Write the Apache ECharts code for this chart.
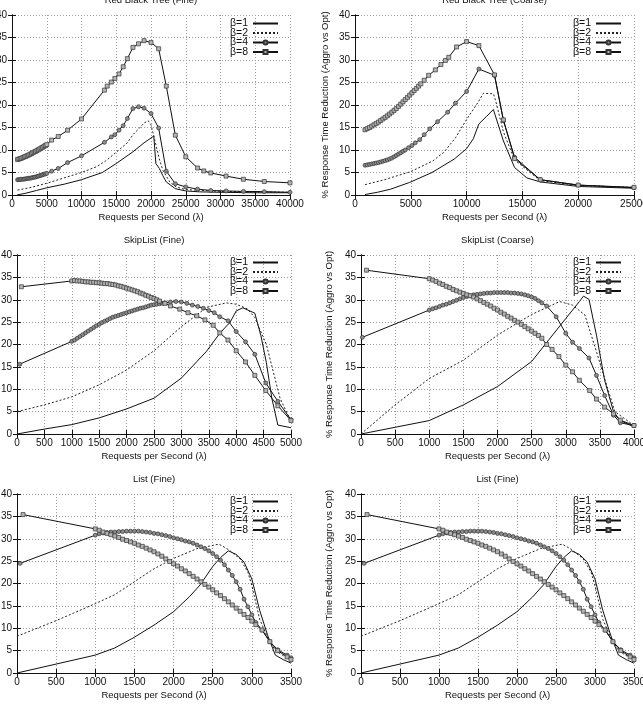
<!DOCTYPE html>
<html>
<head>
<meta charset="utf-8">
<script src="https://cdn.jsdelivr.net/npm/echarts@6/dist/echarts.min.js"></script>
<style>
  html, body { margin: 0; padding: 0; background: #fff; }
  #chart { width: 643px; height: 710px; }
</style>
</head>
<body>
<div id="chart"></div>
<script>
// ---- data: [requests per second, % reduction] ----
const seriesNames = ['β=1', 'β=2', 'β=4', 'β=8'];
const yTicks = { min: 0, max: 40, step: 5 };

// Red Black Tree (Fine)
const rbtFineB1 = [[700,0],[2000,0.4],[3500,1.0],[5000,1.6],[7500,2.4],[10000,3.4],[13000,5.0],[15000,7.0],[17400,9.6],[19000,11.6],[20400,13.1],[20700,7.0],[21200,5.9],[21700,4.3],[22200,2.9],[23500,1.4],[25000,0.9],[27000,0.7],[30000,0.6],[35000,0.5],[40000,0.5]];
const rbtFineB2 = [[800,1.1],[2500,1.6],[5000,2.6],[7500,3.8],[10000,5.0],[12200,6.3],[13500,7.6],[15000,9.5],[16600,11.6],[17400,13.4],[18300,14.8],[19000,16.0],[19600,16.5],[20000,15.6],[20500,12.5],[20800,10.5],[21200,8.0],[21700,5.5],[22700,2.9],[23600,1.8],[25000,1.2],[30000,0.8],[40000,0.6]];
const rbtFineB4 = [[800,3.4],[1000,3.4],[1200,3.45],[1400,3.5],[1600,3.5],[1800,3.55],[2000,3.6],[2200,3.65],[2400,3.7],[2600,3.75],[2800,3.8],[3000,3.9],[3200,3.95],[3400,4.0],[3600,4.1],[3800,4.2],[4000,4.3],[4200,4.4],[4400,4.5],[4600,4.6],[4800,4.7],[5000,4.8],[5700,5.3],[6650,5.9],[8000,7.2],[10000,8.7],[13300,11.7],[14300,12.9],[14800,13.4],[15400,14.4],[16000,15.4],[16600,17.0],[17400,19.2],[18200,19.6],[19000,19.3],[20000,18.1],[21100,14.9],[22200,5.3],[23500,2.5],[25000,1.8],[26700,1.3],[28600,1.0],[30800,0.9],[33300,0.8],[36300,0.75],[40000,0.6]];
const rbtFineB8 = [[800,7.9],[1000,8.0],[1200,8.1],[1400,8.2],[1600,8.35],[1800,8.5],[2000,8.6],[2200,8.75],[2400,8.9],[2600,9.05],[2800,9.2],[3000,9.4],[3200,9.55],[3400,9.7],[3600,9.9],[3800,10.05],[4000,10.25],[4200,10.45],[4400,10.6],[4600,10.8],[4800,11.0],[5000,11.2],[5700,12.2],[6650,13.0],[8000,14.4],[10000,16.9],[13300,23.3],[13700,24.2],[14300,25.1],[14800,25.9],[15400,26.9],[16000,28.5],[16600,30.3],[17400,32.8],[18200,33.6],[19000,34.3],[20000,33.9],[21100,32.5],[22200,24.2],[23500,13.3],[25000,8.5],[26700,6.0],[27600,5.35],[28600,4.9],[30800,4.2],[33300,3.5],[36300,3.0],[40000,2.7]];

// Red Black Tree (Coarse)
const rbtCoarseB1 = [[900,0.1],[2000,0.6],[3200,1.3],[4900,2.8],[6900,5.0],[8900,8.0],[10000,10.3],[10600,12.5],[11100,15.8],[11800,17.5],[12400,19.0],[13300,12.0],[14300,6.1],[15400,3.8],[16600,2.9],[20000,1.9],[25000,1.5]];
const rbtCoarseB2 = [[900,2.3],[2500,3.3],[5000,5.2],[7000,7.6],[8000,9.6],[9000,12.7],[10000,16.8],[11000,20.5],[11500,22.6],[12400,22.5],[12600,21.0],[13300,14.0],[14300,7.8],[16600,3.2],[20000,2.1],[25000,1.7]];
const rbtCoarseB4 = [[900,6.6],[1100,6.7],[1300,6.8],[1500,6.9],[1700,7.0],[1900,7.1],[2100,7.2],[2300,7.35],[2500,7.5],[2700,7.65],[2900,7.8],[3100,8.0],[3300,8.2],[3500,8.5],[3700,8.8],[3900,9.1],[4100,9.4],[4300,9.7],[4500,10.0],[4800,10.5],[5100,11.0],[5400,11.6],[5800,12.3],[6200,13.4],[6700,14.7],[7400,16.3],[8300,18.4],[9000,20.4],[10000,23.0],[11100,28.0],[12500,26.6],[13300,16.5],[14300,8.4],[16600,3.4],[20000,2.2],[25000,1.6]];
const rbtCoarseB8 = [[900,14.5],[1100,14.75],[1300,15.0],[1500,15.3],[1700,15.6],[1900,15.9],[2100,16.2],[2300,16.55],[2500,16.9],[2700,17.25],[2900,17.6],[3100,18.0],[3300,18.4],[3500,18.8],[3700,19.2],[3900,19.7],[4100,20.2],[4300,20.7],[4500,21.2],[4700,21.7],[4900,22.2],[5100,22.7],[5300,23.2],[5500,23.7],[5700,24.2],[5900,24.7],[6200,25.5],[6600,26.6],[7200,27.8],[7700,29.0],[8100,29.9],[8400,30.6],[9100,32.9],[10000,34.1],[11100,33.2],[12500,26.7],[13300,16.7],[14300,8.1],[16600,3.4],[20000,2.2],[25000,1.7]];

// SkipList (Fine)
const skipFineB1 = [[0,0],[500,1.1],[1000,2.1],[1500,3.6],[2000,5.6],[2500,8.0],[3000,12.5],[3460,18.5],[3700,22.5],[3890,25.0],[4000,27.5],[4120,28.2],[4340,27.0],[4450,22.0],[4550,16.0],[4650,8.0],[4760,2.0],[5000,1.4]];
const skipFineB2 = [[0,5.0],[500,6.5],[1000,8.3],[1500,11.0],[2000,14.3],[2500,18.6],[3000,24.0],[3460,28.3],[3820,29.3],[4000,29.0],[4200,28.0],[4340,26.0],[4550,20.0],[4800,8.0],[5000,2.8]];
const skipFineB4 = [[50,15.6],[1000,20.7],[1050,21.0],[1100,21.4],[1150,21.8],[1200,22.2],[1250,22.6],[1300,23.0],[1350,23.4],[1400,23.8],[1450,24.2],[1500,24.5],[1550,24.9],[1600,25.2],[1650,25.5],[1700,25.8],[1750,26.1],[1800,26.3],[1850,26.5],[1900,26.7],[1950,26.9],[2000,27.1],[2050,27.3],[2100,27.5],[2150,27.7],[2200,27.9],[2250,28.1],[2300,28.2],[2350,28.4],[2400,28.6],[2450,28.8],[2500,28.9],[2550,29.0],[2600,29.1],[2650,29.2],[2700,29.3],[2800,29.5],[2900,29.6],[3000,29.5],[3100,29.2],[3200,28.8],[3300,28.5],[3400,28.1],[3500,27.6],[3600,27.1],[3700,26.2],[3850,25.3],[4000,22.9],[4170,20.6],[4340,17.8],[4540,11.4],[4760,7.3],[5000,3.2]];
const skipFineB8 = [[80,32.9],[1000,34.2],[1050,34.3],[1100,34.2],[1150,34.2],[1200,34.1],[1250,34.0],[1300,34.0],[1350,33.9],[1400,33.9],[1450,33.8],[1500,33.8],[1550,33.7],[1600,33.6],[1650,33.6],[1700,33.5],[1750,33.4],[1800,33.3],[1850,33.1],[1900,33.0],[1950,32.8],[2000,32.6],[2050,32.4],[2100,32.2],[2150,32.0],[2200,31.8],[2250,31.5],[2300,31.3],[2350,31.0],[2400,30.8],[2450,30.5],[2500,30.3],[2550,30.0],[2600,29.7],[2700,29.2],[2800,28.6],[2970,27.9],[3120,27.1],[3280,26.4],[3430,25.5],[3580,24.3],[3700,22.6],[3850,21.0],[4000,18.6],[4170,16.1],[4340,13.1],[4540,9.7],[4760,6.3],[5000,3.0]];

// SkipList (Coarse)
const skipCoarseB1 = [[0,0],[500,1.5],[1000,3.0],[1500,6.5],[2000,10.6],[2500,16.2],[2770,21.4],[3000,25.8],[3200,29.6],[3260,30.8],[3340,30.1],[3450,22.1],[3570,12.0],[3700,5.0],[3800,3.0],[4000,1.6]];
const skipCoarseB2 = [[0,0],[500,6.5],[1000,12.4],[1500,16.5],[2000,22.1],[2500,26.7],[2910,29.6],[3100,28.8],[3280,26.6],[3450,18.4],[3570,12.4],[3720,5.0],[4000,1.9]];
const skipCoarseB4 = [[20,21.6],[1000,27.7],[1050,28.0],[1100,28.2],[1150,28.5],[1200,28.8],[1250,29.0],[1300,29.3],[1350,29.6],[1400,29.9],[1450,30.2],[1500,30.5],[1550,30.7],[1600,30.9],[1650,31.1],[1700,31.2],[1750,31.3],[1800,31.4],[1850,31.5],[1900,31.5],[1950,31.6],[2000,31.6],[2050,31.6],[2100,31.6],[2150,31.6],[2200,31.5],[2250,31.5],[2300,31.4],[2350,31.3],[2400,31.1],[2450,30.9],[2500,30.6],[2550,30.3],[2600,29.8],[2650,29.3],[2720,28.6],[2860,26.2],[3000,22.5],[3100,20.5],[3200,19.1],[3340,17.0],[3450,13.1],[3570,8.6],[3700,4.2],[3800,2.5],[4000,1.9]];
const skipCoarseB8 = [[80,36.6],[1000,34.7],[1050,34.4],[1100,34.1],[1150,33.7],[1200,33.4],[1250,33.0],[1300,32.7],[1350,32.3],[1400,32.0],[1450,31.7],[1500,31.4],[1550,31.1],[1600,30.9],[1650,30.6],[1700,30.2],[1750,29.8],[1800,29.4],[1850,29.0],[1900,28.6],[1950,28.1],[2000,27.7],[2050,27.2],[2100,26.8],[2150,26.3],[2200,25.9],[2250,25.4],[2300,25.0],[2350,24.5],[2400,24.0],[2450,23.5],[2500,23.0],[2550,22.5],[2600,22.0],[2650,21.4],[2720,20.0],[2800,18.9],[2900,17.3],[3000,15.4],[3100,13.9],[3200,12.0],[3350,9.7],[3450,7.8],[3570,6.0],[3700,4.5],[3800,3.1],[4000,1.9]];

// List (Fine) -- the same data appears in both bottom panels
const listFineB1 = [[0,0],[500,2.0],[1000,4.0],[1250,5.6],[1500,8.0],[1750,10.7],[2000,13.7],[2200,17.0],[2340,19.7],[2500,23.8],[2600,25.8],[2700,27.3],[2800,26.5],[2900,24.8],[3000,21.0],[3100,14.0],[3200,8.5],[3300,4.0],[3400,3.0],[3500,2.2]];
const listFineB2 = [[0,8.2],[500,11.7],[1000,15.5],[1250,17.5],[1500,20.4],[1750,23.3],[2000,25.6],[2300,27.8],[2580,28.8],[2700,27.6],[2850,25.5],[2950,22.5],[3000,19.5],[3100,12.0],[3200,8.0],[3300,5.0],[3500,2.8]];
const listFineB4 = [[40,24.5],[1000,30.8],[1050,31.1],[1100,31.3],[1150,31.4],[1200,31.5],[1250,31.5],[1300,31.6],[1350,31.6],[1400,31.7],[1450,31.7],[1500,31.7],[1550,31.7],[1600,31.6],[1650,31.5],[1700,31.4],[1750,31.2],[1800,31.1],[1850,30.9],[1900,30.7],[1950,30.5],[2000,30.2],[2050,30.0],[2100,29.8],[2150,29.5],[2200,29.3],[2250,29.0],[2300,28.6],[2350,28.2],[2400,27.8],[2450,27.3],[2500,26.7],[2550,26.0],[2600,25.2],[2650,24.2],[2700,23.0],[2750,21.8],[2800,20.4],[2850,18.7],[2900,16.5],[2950,14.8],[3000,13.0],[3050,11.3],[3130,9.6],[3230,7.0],[3330,5.2],[3450,4.0],[3500,3.4]];
const listFineB8 = [[77,35.4],[1000,32.2],[1050,31.9],[1100,31.5],[1150,31.2],[1200,30.9],[1250,30.6],[1300,30.3],[1350,29.9],[1400,29.6],[1450,29.3],[1500,29.0],[1550,28.6],[1600,28.3],[1650,27.9],[1700,27.5],[1750,27.1],[1800,26.6],[1850,26.1],[1900,25.5],[1950,24.9],[2000,24.4],[2050,23.9],[2100,23.3],[2150,22.8],[2200,22.2],[2250,21.6],[2300,21.0],[2350,20.4],[2400,19.8],[2450,19.2],[2500,18.6],[2550,17.9],[2600,17.3],[2650,16.6],[2700,15.9],[2750,15.2],[2800,14.5],[2850,13.8],[2900,13.1],[2950,12.4],[3000,11.6],[3050,10.8],[3130,9.6],[3230,7.0],[3330,5.0],[3450,3.6],[3500,3.0]];

// ---- layout of the six panels ----
const FONT = 'Liberation Sans, Arial, Helvetica, sans-serif';
const TEXT = '#111';
const Y_NAME = '% Response Time Reduction (Aggro vs Opt)';
const X_NAME = 'Requests per Second (λ)';

const panels = [
  { title: 'Red Black Tree (Fine)',   left: 12,  top: 15,  width: 278, height: 180, xMax: 40000, xStep: 5000, yName: false, legendRight: 364, legendTop: 18,  lines: [rbtFineB1, rbtFineB2, rbtFineB4, rbtFineB8] },
  { title: 'Red Black Tree (Coarse)', left: 355, top: 15,  width: 279, height: 180, xMax: 25000, xStep: 5000, yName: true,  yGap: 25, legendRight: 21, legendTop: 18,  lines: [rbtCoarseB1, rbtCoarseB2, rbtCoarseB4, rbtCoarseB8] },
  { title: 'SkipList (Fine)',         left: 17,  top: 255, width: 274, height: 179, xMax: 5000,  xStep: 500,  yName: false, legendRight: 364, legendTop: 257, lines: [skipFineB1, skipFineB2, skipFineB4, skipFineB8] },
  { title: 'SkipList (Coarse)',       left: 361, top: 255, width: 273, height: 179, xMax: 4000,  xStep: 500,  yName: true,  yGap: 27, legendRight: 21, legendTop: 257, lines: [skipCoarseB1, skipCoarseB2, skipCoarseB4, skipCoarseB8] },
  { title: 'List (Fine)',             left: 17,  top: 494, width: 274, height: 179, xMax: 3500,  xStep: 500,  yName: false, legendRight: 364, legendTop: 496, lines: [listFineB1, listFineB2, listFineB4, listFineB8] },
  { title: 'List (Fine)',             left: 361, top: 494, width: 273, height: 179, xMax: 3500,  xStep: 500,  yName: true,  yGap: 27, legendRight: 21, legendTop: 496, lines: [listFineB1, listFineB2, listFineB4, listFineB8] }
];

const lineStyles = [
  { lineStyle: { color: '#111', width: 1, type: 'solid' }, symbol: 'none', itemStyle: { color: '#111' } },
  { lineStyle: { color: '#222', width: 1, type: [2, 2] }, symbol: 'none', itemStyle: { color: '#222' } },
  { lineStyle: { color: '#111', width: 1, type: 'solid' }, symbol: 'circle', symbolSize: 4,
    itemStyle: { color: '#8c8c8c', borderColor: '#333', borderWidth: 0.7 } },
  { lineStyle: { color: '#111', width: 1, type: 'solid' }, symbol: 'rect', symbolSize: 4,
    itemStyle: { color: '#b4b4b4', borderColor: '#333', borderWidth: 0.7 } }
];

// legend entries: the two plain lines get no marker in the key
const legendItems = seriesNames.map((name, k) =>
  k < 2 ? { name, itemStyle: { opacity: 0 } } : { name });

const tick = { show: true, inside: true, length: 4, lineStyle: { color: '#111', width: 1 } };
const axisLine = { show: true, lineStyle: { color: '#111', width: 1 } };
const gridLine = { show: true, lineStyle: { color: '#9a9a9a', width: 1, type: [1, 2] } };
const plain = (v) => String(v);

const option = {
  animation: false,
  backgroundColor: '#fff',
  title: [], grid: [], xAxis: [], yAxis: [], legend: [], series: []
};

panels.forEach((p, i) => {
  option.grid.push({
    left: p.left, top: p.top, width: p.width, height: p.height,
    containLabel: false, outerBoundsMode: 'none'
  });

  option.title.push({
    text: p.title, left: p.left + p.width / 2, top: p.top - 20, textAlign: 'center', padding: 0,
    textStyle: { fontFamily: FONT, fontSize: 9.5, fontWeight: 'normal', color: TEXT }
  });

  const xScale = { type: 'value', gridIndex: i, min: 0, max: p.xMax, interval: p.xStep };
  option.xAxis.push(Object.assign({}, xScale, {
    position: 'bottom', name: X_NAME, nameLocation: 'middle', nameGap: 17,
    nameTextStyle: { fontFamily: FONT, fontSize: 9.5, color: TEXT },
    axisLine, axisTick: tick, splitLine: gridLine,
    axisLabel: { fontFamily: FONT, fontSize: 10, color: TEXT, margin: 4, formatter: plain, showMaxLabel: true, showMinLabel: true }
  }));
  option.xAxis.push(Object.assign({}, xScale, {
    position: 'top', axisLine, axisTick: tick, splitLine: { show: false }, axisLabel: { show: false }
  }));

  const yScale = { type: 'value', gridIndex: i, min: yTicks.min, max: yTicks.max, interval: yTicks.step };
  option.yAxis.push(Object.assign({}, yScale, {
    position: 'left',
    name: p.yName ? Y_NAME : '', nameLocation: 'middle', nameGap: p.yGap || 25,
    nameTextStyle: { fontFamily: FONT, fontSize: 9.5, color: TEXT },
    axisLine, axisTick: tick, splitLine: gridLine,
    axisLabel: { fontFamily: FONT, fontSize: 10, color: TEXT, margin: 5, formatter: plain }
  }));
  option.yAxis.push(Object.assign({}, yScale, {
    position: 'right', axisLine, axisTick: tick, splitLine: { show: false }, axisLabel: { show: false }
  }));

  option.legend.push({
    orient: 'vertical', right: p.legendRight, top: p.legendTop, padding: 0,
    itemGap: -1.5, itemWidth: 25, itemHeight: 5, align: 'right', selectedMode: false,
    data: legendItems,
    textStyle: { fontFamily: FONT, fontSize: 10.5, lineHeight: 9.5, color: TEXT }
  });

  p.lines.forEach((data, k) => {
    option.series.push(Object.assign({
      type: 'line', name: seriesNames[k], data,
      xAxisIndex: 2 * i, yAxisIndex: 2 * i,
      showSymbol: k >= 2, clip: true, z: 2 + k
    }, lineStyles[k]));
  });
});

const chart = echarts.init(document.getElementById('chart'), null, { renderer: 'canvas' });
chart.setOption(option);
</script>
</body>
</html>
